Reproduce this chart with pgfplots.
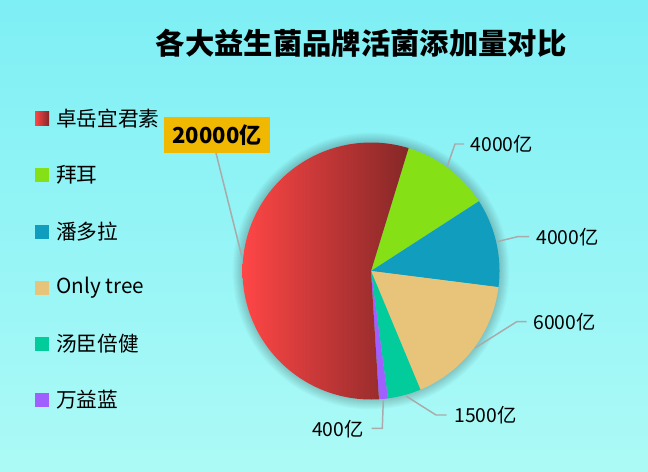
\documentclass[border=0pt]{standalone}
\usepackage{fontspec}
\setmainfont{Noto Sans CJK SC}
\usepackage{pgfplots}
\usepackage{pgfplotstable}
\pgfplotsset{compat=1.18}

\definecolor{bgtop}{RGB}{126,239,245}
\definecolor{bgmid}{RGB}{126,246,232}
\definecolor{bgbot}{RGB}{172,250,246}
\definecolor{sl0}{RGB}{133,224,21}
\definecolor{sl1}{RGB}{17,158,190}
\definecolor{sl2}{RGB}{232,195,122}
\definecolor{sl3}{RGB}{3,204,156}
\definecolor{sl4}{RGB}{160,96,255}
\definecolor{redL}{RGB}{255,70,70}
\definecolor{redR}{RGB}{133,39,39}
\definecolor{lead}{RGB}{170,170,170}
\definecolor{gold}{RGB}{240,184,0}

% values in 亿, clockwise from the green slice; the last row is 卓岳宜君素
\pgfplotstableread{
name value
拜耳 4000
潘多拉 4000
Onlytree 6000
汤臣倍健 1500
万益蓝 400
卓岳宜君素 20000
}\piedata

\pgfplotstablegetrowsof{\piedata}
\pgfmathtruncatemacro\lastrow{\pgfplotsretval-1}
\gdef\total{0}
\foreach \i in {0,...,\lastrow}{%
  \pgfplotstablegetelem{\i}{value}\of\piedata
  \xdef\total{\fpeval{\total+\pgfplotsretval}}%
}
\gdef\cur{73}
\foreach \i in {0,...,\lastrow}{%
  \pgfplotstablegetelem{\i}{value}\of\piedata
  \xdef\nxt{\fpeval{round(\cur-360*\pgfplotsretval/\total,3)}}%
  \expandafter\xdef\csname aS\i\endcsname{\cur}%
  \expandafter\xdef\csname aE\i\endcsname{\nxt}%
  \global\let\cur\nxt
}

\newcommand\lfont{\fontsize{15.5}{18}\selectfont}
\newcommand\vfont{\fontsize{14.5}{17}\selectfont}

\begin{document}
\begin{tikzpicture}[x=0.75pt,y=-0.75pt]
\path[use as bounding box] (0,0) rectangle (648,471);
\shade[top color=bgtop, middle color=bgmid, bottom color=bgbot] (0,0) rectangle (648,471);

\node[font=\bfseries\fontsize{22}{25}\selectfont] at (361,43) {各大益生菌品牌活菌添加量对比};

% legend
\shade[left color=redL, right color=redR] (35,111.5) rectangle (49,125.5);
\fill[sl0] (35,168) rectangle (49,182);
\fill[sl1] (35,224.7) rectangle (49,238.7);
\fill[sl2] (35,280.5) rectangle (49,294.5);
\fill[sl3] (35,337) rectangle (49,351);
\fill[sl4] (35,393) rectangle (49,407);
\node[anchor=west, inner sep=0, font=\lfont] at (56,118.5) {卓岳宜君素};
\node[anchor=west, inner sep=0, font=\lfont] at (56,175) {拜耳};
\node[anchor=west, inner sep=0, font=\lfont] at (56,231.7) {潘多拉};
\node[anchor=west, inner sep=0, font=\lfont] at (56,287.5) {Only tree};
\node[anchor=west, inner sep=0, font=\lfont] at (56,344) {汤臣倍健};
\node[anchor=west, inner sep=0, font=\lfont] at (56,400) {万益蓝};

\begin{axis}[at={(278.25pt,-203.25pt)}, anchor=center, scale only axis,
  width=192.75pt, height=192.75pt,
  xmin=-1, xmax=1, ymin=-1, ymax=1, hide axis, clip=false]
% soft shadow round the pie
\pgfplotsinvokeforeach{1,...,10}{
  \addplot[draw=none, fill=black, fill opacity=0.02, domain=0:360, samples=120]
    ({(1+#1/128.5)*cos(x)}, {(1+#1/128.5)*sin(x)}) -- cycle;
}
\pgfplotsinvokeforeach{0,...,4}{
  \addplot[draw=none, fill=sl#1, samples=60,
    domain=\csname aE#1\endcsname:\csname aS#1\endcsname]
    ({cos(x)}, {sin(x)}) -- (axis cs:0,0) -- cycle;
}
\addplot[draw=none, left color=redL, right color=redR, samples=120,
  domain=\csname aE5\endcsname:\csname aS5\endcsname]
  ({cos(x)}, {sin(x)}) -- (axis cs:0,0) -- cycle;
\end{axis}

% leader lines and labels
\begin{scope}[lead, line width=1.1pt]
\draw (242,257) -- (216,153);
\draw (447,167) -- (455,144) -- (464,144);
\draw (497,241.7) -- (517.3,236.7) -- (529,236.7);
\draw (475,348) -- (516.7,321.7) -- (526.7,321.7);
\draw (406,396) -- (436,415) -- (446.7,415);
\draw (383.3,400) -- (382.3,428.3) -- (371.7,428.3);
\end{scope}
\node[fill=gold, minimum width=106*0.75pt, minimum height=36*0.75pt, inner sep=0,
  font=\bfseries\fontsize{16.5}{19}\selectfont] at (217,135.3) {20000亿};
\node[anchor=west, inner sep=0, font=\vfont] at (470.5,144) {4000亿};
\node[anchor=west, inner sep=0, font=\vfont] at (536,237) {4000亿};
\node[anchor=west, inner sep=0, font=\vfont] at (533,322) {6000亿};
\node[anchor=west, inner sep=0, font=\vfont] at (454,415.5) {1500亿};
\node[anchor=east, inner sep=0, font=\vfont] at (364,429) {400亿};
\end{tikzpicture}
\end{document}
